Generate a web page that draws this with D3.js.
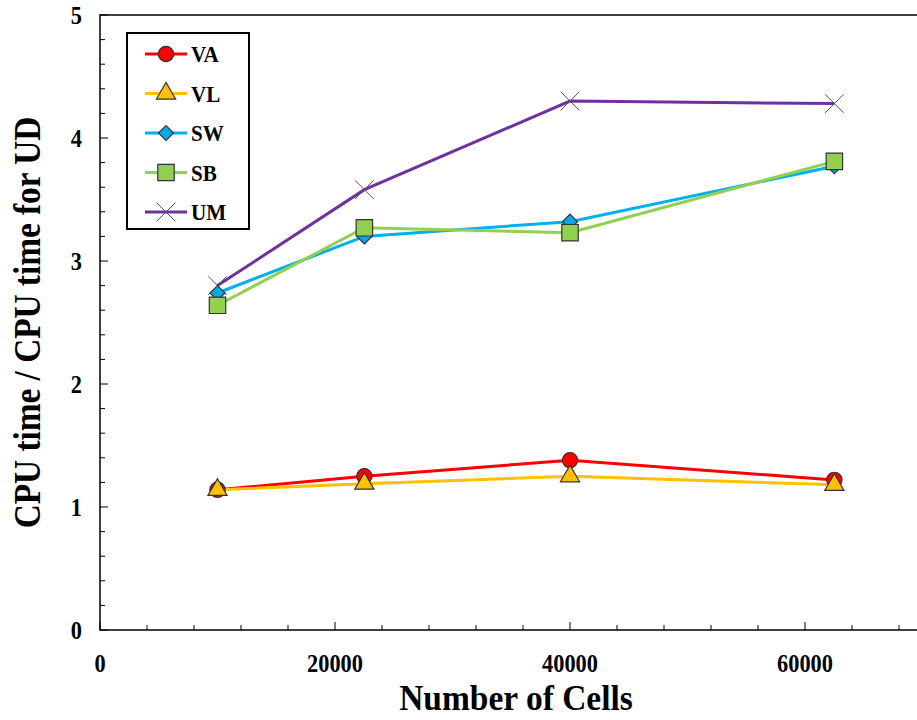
<!DOCTYPE html>
<html>
<head>
<meta charset="utf-8">
<script src="https://cdn.jsdelivr.net/npm/d3@7"></script>
<style>
body { margin: 0; background: #fff; }
text { font-family: "Liberation Serif", "Times New Roman", serif; font-weight: bold; }
</style>
</head>
<body>
<script>
// data
const cells = [10000, 22500, 40000, 62500]
const seriesNames = ["VA", "VL", "SW", "SB", "UM"]
const VA = [1.14, 1.25, 1.38, 1.22]
const VL = [1.14, 1.19, 1.25, 1.18]
const SW = [2.74, 3.20, 3.32, 3.77]
const SB = [2.64, 3.27, 3.23, 3.81]
const UM = [2.80, 3.58, 4.30, 4.28]
const xTicks = [0, 20000, 40000, 60000]
const yTicks = [0, 1, 2, 3, 4, 5]

const width = 917, height = 720
const margin = {left: 100, top: 15, bottom: 90}

const colors = {VA: "#ff0000", VL: "#ffc000", SW: "#00b0f0", SB: "#92d050", UM: "#7030a0"}
const fills = {VA: "#ff0000", VL: "#ffc000", SW: "#00a8e8", SB: "#92d050", UM: "none"}
const symbols = {VA: d3.symbolCircle, VL: d3.symbolTriangle, SW: d3.symbolSquare, SB: d3.symbolSquare, UM: d3.symbolX}
const sizes = {VA: 185, VL: 160, SW: 112, SB: 270, UM: 230}
const values = {VA, VL, SW, SB, UM}

const svg = d3.select("body").append("svg")
    .attr("width", width)
    .attr("height", height)

const x = d3.scaleLinear().domain([0, 70000]).range([margin.left, margin.left + 235 * 3.5])
const y = d3.scaleLinear().domain([0, 5]).range([height - margin.bottom, margin.top])

// narrow, tall text like the original
function label(g, tx, ty, str, size, sx, anchor, rot) {
    return g.append("text")
        .attr("transform", `translate(${tx},${ty})${rot ? " rotate(-90)" : ""} scale(${sx},1)`)
        .attr("text-anchor", anchor)
        .attr("font-size", size)
        .text(str)
}

// frame
svg.append("rect")
    .attr("x", x(0)).attr("y", y(5))
    .attr("width", x(70000) - x(0)).attr("height", y(0) - y(5))
    .attr("fill", "none").attr("stroke", "#000").attr("stroke-width", 1.5)

// minor + major ticks, pointing inward
const xAxis = svg.append("g").attr("transform", `translate(0,${y(0)})`)
xAxis.selectAll("line")
    .data(d3.range(0, 70001, 4000))
    .join("line")
    .attr("x1", d => x(d)).attr("x2", d => x(d))
    .attr("y1", 0).attr("y2", d => d % 20000 === 0 ? -8 : -5)
    .attr("stroke", "#000").attr("stroke-width", 1)
xTicks.forEach(d => label(xAxis, x(d), 42, d, 26, 0.86, "middle"))

const yAxis = svg.append("g").attr("transform", `translate(${x(0)},0)`)
yAxis.selectAll("line")
    .data(d3.range(0, 5.01, 0.2))
    .join("line")
    .attr("x1", 0).attr("x2", (d, i) => i % 5 === 0 ? 8 : 5)
    .attr("y1", d => y(d)).attr("y2", d => y(d))
    .attr("stroke", "#000").attr("stroke-width", 1)
yTicks.forEach(d => label(yAxis, -18, y(d) + 9, d, 26, 0.86, "end"))

// axis titles
label(svg, 516, 710, "Number of Cells", 36, 0.93, "middle")
label(svg, 40, (y(0) + y(5)) / 2, "CPU time / CPU time for UD", 37, 0.9, "middle", true)

// lines
const line = d3.line().x((d, i) => x(cells[i])).y(d => y(d))
seriesNames.forEach(name => {
    svg.append("path")
        .attr("d", line(values[name]))
        .attr("fill", "none")
        .attr("stroke", colors[name])
        .attr("stroke-width", 3)
})

// markers
const markerOrder = ["UM", "VA", "VL", "SW", "SB"]
function marker(g, name, cx, cy) {
    g.append("path")
        .attr("d", d3.symbol(symbols[name], sizes[name])())
        .attr("transform", `translate(${cx},${cy})${name === "SW" ? " rotate(45)" : ""}`)
        .attr("fill", fills[name])
        .attr("stroke", name === "UM" ? "#555" : "#333")
        .attr("stroke-width", name === "UM" ? 1 : 1.2)
}
markerOrder.forEach(name => {
    values[name].forEach((v, i) => marker(svg, name, x(cells[i]), y(v)))
})

// legend
const lg = svg.append("g")
lg.append("rect")
    .attr("x", 127).attr("y", 33)
    .attr("width", 122).attr("height", 196)
    .attr("fill", "#fff").attr("stroke", "#000").attr("stroke-width", 2)
seriesNames.forEach((name, i) => {
    const ly = 54 + i * 39.5
    lg.append("line")
        .attr("x1", 145).attr("x2", 187)
        .attr("y1", ly).attr("y2", ly)
        .attr("stroke", colors[name]).attr("stroke-width", 3)
    marker(lg, name, 166, ly)
    label(lg, 191, ly + 8, name, 24, 0.88, "start")
})
</script>
</body>
</html>
